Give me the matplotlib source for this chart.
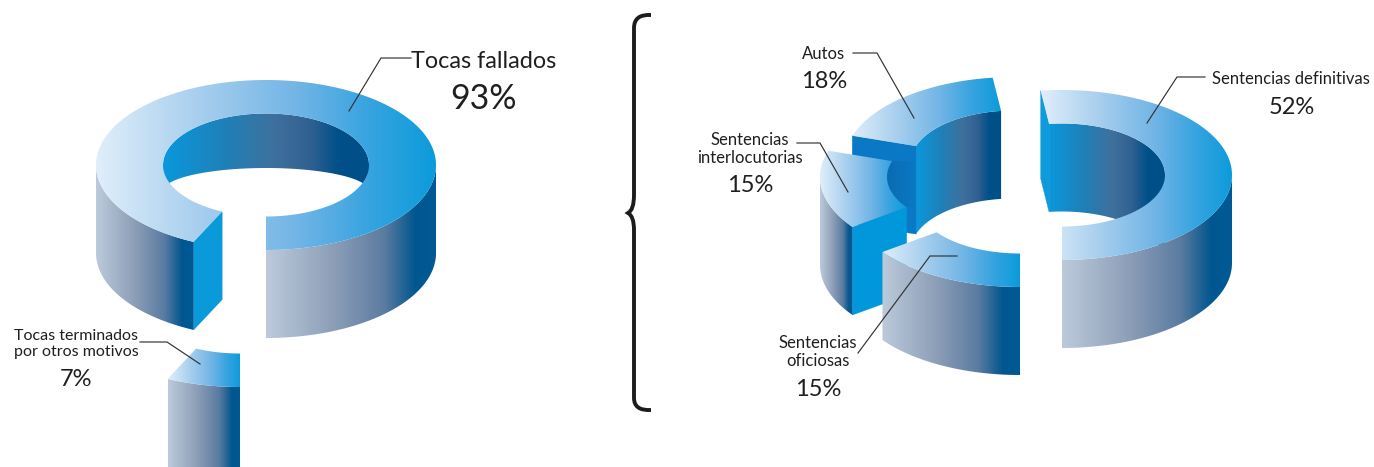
import numpy as np
import matplotlib
matplotlib.use("Agg")
import matplotlib.pyplot as plt
from matplotlib.colors import LinearSegmentedColormap
from matplotlib.patches import Polygon, PathPatch
from matplotlib.path import Path

# ---------- data ----------
left_categories = ["Tocas fallados", "Tocas terminados\npor otros motivos"]
left_values = [93, 7]
right_categories = ["Sentencias definitivas", "Autos", "Sentencias\ninterlocutorias", "Sentencias\noficiosas"]
right_values = [52, 18, 15, 15]

# ---------- layout (pixel space of the picture) ----------
W, H = 1374, 467
RX, RY, IRX, IRY, DEPTH = 170, 85, 103, 51.5, 88
left_centres = [(266, 165), (240, 302)]
right_centres = [(1062, 175), (1014, 162), (990, 177), (1020, 202)]
left_faces = ["#0a9ad9", None]
right_faces = ["#0d9bdc", "#0a78c4", "#0098da", None]
# inner wall floor: (offset of floor centre, floor ellipse height)
left_floor = [(26, 23), None]
right_floor = [(DEPTH, IRY), (DEPTH, IRY), None, None]

top_cm = LinearSegmentedColormap.from_list("top", [(0, "#e0eefa"), (.3, "#a8cfee"), (.6, "#70b4e6"), (.8, "#38a4e0"), (1, "#0b9bdb")])
outer_cm = LinearSegmentedColormap.from_list("outer", [(0, "#bccadb"), (.4, "#8c9eb7"), (.7, "#5a7ba0"), (.88, "#00568f"), (1, "#005a96")])
inner_cm = LinearSegmentedColormap.from_list("inner", [(0, "#0a98dc"), (.3, "#1f80b8"), (.55, "#3f709c"), (.72, "#2f6090"), (.85, "#00508a"), (1, "#004f88")])
shade_cm = LinearSegmentedColormap.from_list("shade", ["#0a6cb2", "#0a78c4"])

fig = plt.figure(figsize=(W / 100, H / 100), dpi=100)
ax = fig.add_axes([0, 0, 1, 1])
plt.rcParams["font.family"] = ["Lato", "DejaVu Sans"]
z = [2]


def arc(c, rx, ry, t):
    return np.column_stack([c[0] + rx * np.cos(t), c[1] + ry * np.sin(t)])


def fill(poly, cmap):
    """Gradient in x over the polygon's own extent, clipped to the polygon."""
    x0, x1 = poly[:, 0].min(), poly[:, 0].max()
    y0, y1 = poly[:, 1].min(), poly[:, 1].max()
    grad = cmap(np.linspace(0, 1, 256))[None, :, :]
    im = ax.imshow(grad, extent=(x0, x1, y1, y0), aspect="auto", interpolation="bilinear", zorder=z[0])
    clip = Polygon(poly, closed=True, transform=ax.transData)
    im.set_clip_path(clip)
    z[0] += 1


def solid(poly, color):
    ax.add_patch(Polygon(poly, closed=True, fc=color, ec=color, lw=0.3, zorder=z[0]))
    z[0] += 1


def runs(mask):
    out, start = [], None
    for i, m in enumerate(mask):
        if m and start is None:
            start = i
        if start is not None and (not m or i == len(mask) - 1):
            out.append((start, i + 1 if m else i))
            start = None
    return out


def wedge(c, start, sweep, face, floor, shade=False):
    t = np.radians(np.linspace(start, start - sweep, 400))
    s = np.sin(t)
    # inner wall (far side)
    if floor is not None:
        for a, b in runs(s < 0):
            if b - a < 2:
                continue
            tt = t[a:b]
            upper = arc(c, IRX, IRY, tt)
            lower = arc((c[0], c[1] + floor[0]), IRX, floor[1], tt)[::-1]
            fill(np.vstack([upper, lower]), inner_cm)
    # cut face at the end of the sweep
    if face is not None:
        o = arc(c, RX, RY, t[-1:])[0]
        i = arc(c, IRX, IRY, t[-1:])[0]
        solid(np.array([o, i, i + [0, DEPTH], o + [0, DEPTH]]), face)
    # outer wall (near side)
    for a, b in runs(s > 0):
        if b - a < 2:
            continue
        tt = t[a:b]
        upper = arc(c, RX, RY, tt)
        lower = arc((c[0], c[1] + DEPTH), RX, RY, tt)[::-1]
        fill(np.vstack([upper, lower]), outer_cm)
    # inner wall seen through the cut (darker patch on the neighbour's face)
    if shade:
        a = arc(c, IRX, IRY, t)
        fill(np.vstack([a, [a[:, 0].max() + 8, a[:, 1].max()], [a[:, 0].max() + 8, a[:, 1].min()]]), shade_cm)
    # top surface
    fill(np.vstack([arc(c, RX, RY, t), arc(c, IRX, IRY, t[::-1])]), top_cm)


def ring(values, centres, faces, floors, order):
    angle = 90.0
    spans = []
    for v in values:
        sweep = 360.0 * v / sum(values)
        spans.append((angle, sweep))
        angle -= sweep
    for k in order:
        wedge(centres[k], spans[k][0], spans[k][1], faces[k], floors[k], shade=(values is right_values and k == 2))


ring(left_values, left_centres, left_faces, left_floor, [0, 1])
ring(right_values, right_centres, right_faces, right_floor, [0, 1, 2, 3])

# ---------- brace ----------
P = Path
brace = Path(
    [(651, 15), (634, 14), (634, 28), (634, 195), (634, 210), (628, 213), (634, 216), (634, 230),
     (634, 398), (634, 411), (651, 410)],
    [P.MOVETO, P.CURVE3, P.CURVE3, P.LINETO, P.CURVE3, P.CURVE3, P.CURVE3, P.CURVE3,
     P.LINETO, P.CURVE3, P.CURVE3])
ax.add_patch(PathPatch(brace, fc="none", ec="#1c1c1c", lw=2.8, zorder=50))

# ---------- labels ----------
leaders = [
    [(411, 58), (381, 58), (349, 111)],
    [(140, 342), (167, 342), (200, 364)],
    [(1205, 77), (1177, 77), (1147, 123)],
    [(853, 53), (877, 53), (914, 118)],
    [(797, 143), (820, 143), (848, 192)],
    [(957, 256), (930, 256), (858, 353)],
]
for pts in leaders:
    xs, ys = zip(*pts)
    ax.plot(xs, ys, color="#333333", lw=0.85, zorder=60, solid_joinstyle="miter")

TXT = "#1f1f1f"
def label(x, y, s, size, spacing=1.1):
    ax.text(x, y, s, ha="center", va="center", fontsize=size, color=TXT, zorder=70, linespacing=spacing)

label(484, 61, left_categories[0], 16.8)
label(484, 99, f"{left_values[0]}%", 24.5)
label(76, 344, left_categories[1], 11.5, 1.25)
label(76, 379, f"{left_values[1]}%", 17)
label(1291, 79, right_categories[0], 12)
label(1292, 107, f"{right_values[0]}%", 17)
label(824, 54, right_categories[1], 12)
label(824, 82, f"{right_values[1]}%", 17)
label(750, 149, right_categories[2], 12)
label(750, 185, f"{right_values[2]}%", 17)
label(818, 352, right_categories[3], 12)
label(818, 389, f"{right_values[3]}%", 17)

ax.set_xlim(0, W)
ax.set_ylim(H, 0)
ax.axis("off")
fig.savefig("out.png", dpi=100, facecolor="white")
